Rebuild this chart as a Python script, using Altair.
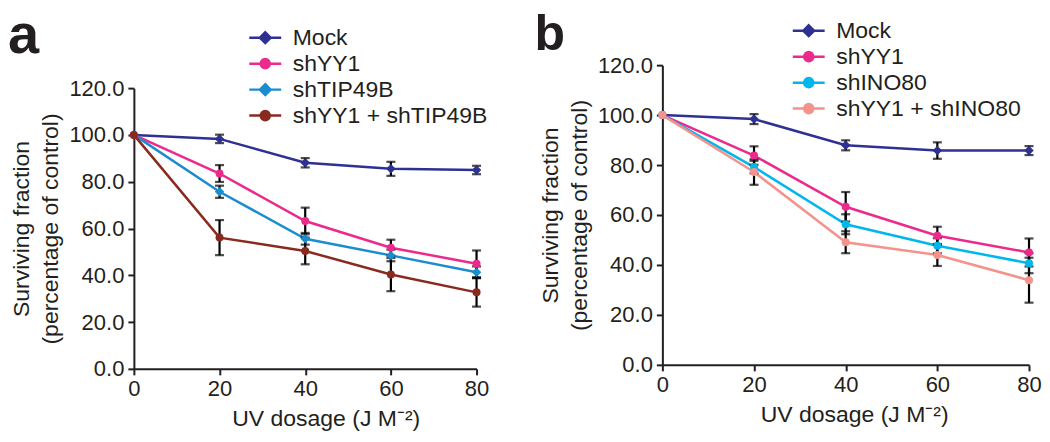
import altair as alt
import pandas as pd

dose = [0, 20, 40, 60, 80]

# Panel a
names_a = ["Mock", "shYY1", "shTIP49B", "shYY1 + shTIP49B"]
colors_a = ["#2e3192", "#ec2a8e", "#1b8ccf", "#8a2a1f"]
diamonds_a = ["Mock", "shTIP49B"]
mock_a = [100, 98.3, 88.1, 85.5, 85.0]
mock_a_err = [0, 1.8, 2.0, 3.0, 1.8]
shyy1_a = [100, 83.5, 63.2, 51.8, 44.9]
shyy1_a_err = [0, 3.6, 5.7, 3.4, 5.7]
shtip_a = [100, 75.7, 55.6, 48.5, 41.3]
shtip_a_err = [0, 2.6, 2.5, 2.5, 2.5]
combo_a = [100, 56.1, 50.4, 40.3, 32.7]
combo_a_err = [0, 7.5, 5.7, 7.1, 6.1]

# Panel b
names_b = ["Mock", "shYY1", "shINO80", "shYY1 + shINO80"]
colors_b = ["#2e3192", "#ec2a8e", "#00b6ed", "#f3938c"]
diamonds_b = ["Mock"]
mock_b = [100, 98.4, 87.9, 85.8, 85.8]
mock_b_err = [0, 2.0, 2.0, 3.3, 1.8]
shyy1_b = [100, 83.8, 63.3, 51.7, 45.0]
shyy1_b_err = [0, 3.7, 5.9, 3.6, 5.6]
shino_b = [100, 79.2, 56.3, 47.7, 40.7]
shino_b_err = [0, 2.5, 4.0, 3.0, 4.0]
combo_b = [100, 77.2, 49.1, 44.0, 33.9]
combo_b_err = [0, 5.1, 4.4, 4.4, 9.0]

y_ticks = [0, 20, 40, 60, 80, 100, 120]
x_ticks = [0, 20, 40, 60, 80]

# legend glyphs: a short line with the marker in the middle
DIAMOND_PATH = "M-1.33,0L1.33,0M0,-0.45L0.45,0L0,0.45L-0.45,0Z"
CIRCLE_PATH = "M-1.33,0L1.33,0M-0.38,0A0.38,0.38 0 1,0 0.38,0A0.38,0.38 0 1,0 -0.38,0Z"

FONT = "Liberation Sans"
INK = "#231f20"


def make_df(names, vals, errs):
    rows = []
    for n, v, e in zip(names, vals, errs):
        for d, vv, ee in zip(dose, v, e):
            rows.append({"series": n, "dose": d, "value": vv, "err": ee,
                         "lo": vv - ee, "hi": vv + ee})
    return pd.DataFrame(rows)


def panel(df, names, colors, diamonds, w, h, top, letter, lsize, ldx, loffset, lx, ly):
    xenc = alt.X("dose:Q", scale=alt.Scale(domain=[0, 80], nice=False),
                 axis=alt.Axis(values=x_ticks, title="UV dosage (J M\u207b\u00b2)",
                               titleX=192, format="d", labelFlush=False))
    yscale = alt.Scale(domain=[0, 120], nice=False, range=[h, top])
    yenc = alt.Y("value:Q", scale=yscale,
                 axis=alt.Axis(values=y_ticks, format=".1f", titleY=(h + top) / 2,
                               title=["Surviving fraction", "(percentage of control)"]))
    # reversed order so this (legend-less) scale is not merged with the legend's scales
    col = alt.Color("series:N", scale=alt.Scale(domain=names[::-1], range=colors[::-1]), legend=None)
    base = alt.Chart(df)
    lines = base.mark_line(strokeWidth=2.5).encode(x=xenc, y=yenc, color=col)
    errs = base.transform_filter("datum.err > 0")
    rule = errs.mark_rule(color="black", strokeWidth=2.2).encode(
        x="dose:Q", y="lo:Q", y2="hi:Q")
    cap_lo = errs.mark_tick(color="black", orient="horizontal", thickness=2.2, size=9).encode(
        x="dose:Q", y="lo:Q")
    cap_hi = errs.mark_tick(color="black", orient="horizontal", thickness=2.2, size=9).encode(
        x="dose:Q", y="hi:Q")
    pts_d = base.transform_filter(alt.FieldOneOfPredicate(field="series", oneOf=diamonds)).mark_point(
        filled=True, shape="diamond", size=90, opacity=1).encode(x=xenc, y=yenc, color=col)
    circles = [n for n in names if n not in diamonds]
    pts_c = base.transform_filter(alt.FieldOneOfPredicate(field="series", oneOf=circles)).mark_point(
        filled=True, shape="circle", size=64, opacity=1).encode(x=xenc, y=yenc, color=col)
    paths = [DIAMOND_PATH if n in diamonds else CIRCLE_PATH for n in names]
    leg = alt.Legend(orient="none", legendX=lx, legendY=ly, title=None,
                     labelFontSize=23, labelFont=FONT, labelColor=INK,
                     symbolSize=576, symbolStrokeWidth=2.5, symbolOpacity=1,
                     labelOffset=14, rowPadding=0, labelLimit=400)
    legend_layer = base.mark_point(filled=True, opacity=0).encode(
        x=xenc, y=yenc,
        fill=alt.Fill("series:N", scale=alt.Scale(domain=names, range=colors), legend=leg),
        stroke=alt.Stroke("series:N", scale=alt.Scale(domain=names, range=colors), legend=leg),
        shape=alt.Shape("series:N", scale=alt.Scale(domain=names, range=paths), legend=leg),
    )
    return alt.layer(lines, rule, cap_lo, cap_hi, pts_d, pts_c, legend_layer).properties(
        width=w, height=h,
        title=alt.TitleParams(letter, anchor="start", frame="group", fontSize=lsize,
                              fontWeight="bold", font=FONT, color=INK, dx=ldx, offset=loffset),
    )


df_a = make_df(names_a, [mock_a, shyy1_a, shtip_a, combo_a],
               [mock_a_err, shyy1_a_err, shtip_a_err, combo_a_err])
df_b = make_df(names_b, [mock_b, shyy1_b, shino_b, combo_b],
               [mock_b_err, shyy1_b_err, shino_b_err, combo_b_err])

pa = panel(df_a, names_a, colors_a, diamonds_a, 343, 304, 23, "a", 56, -126, -40.8, 118, -41)
pb = panel(df_b, names_b, colors_b, diamonds_b, 367, 300, 0, "b", 50, -128, -42.5, 133, -48)

chart = alt.ConcatChart(concat=[pa, pb], columns=2, align="none", spacing=45).resolve_scale(
    color="independent", fill="independent", stroke="independent", shape="independent"
).properties(
    padding={"left": 0, "top": -1, "right": 0, "bottom": 0}
).configure_view(stroke=None).configure_axis(
    grid=False, domainColor=INK, domainWidth=2, tickColor=INK, tickWidth=2, tickSize=6,
    labelFont=FONT, labelFontSize=22, labelColor=INK, labelPadding=4,
    titleFont=FONT, titleFontSize=23, titleFontWeight="normal", titleColor=INK,
    titleLineHeight=29,
).configure_axisY(titlePadding=6).configure_axisX(titlePadding=8)

chart.save("out.html", embed_options={"renderer": "svg", "actions": False})
